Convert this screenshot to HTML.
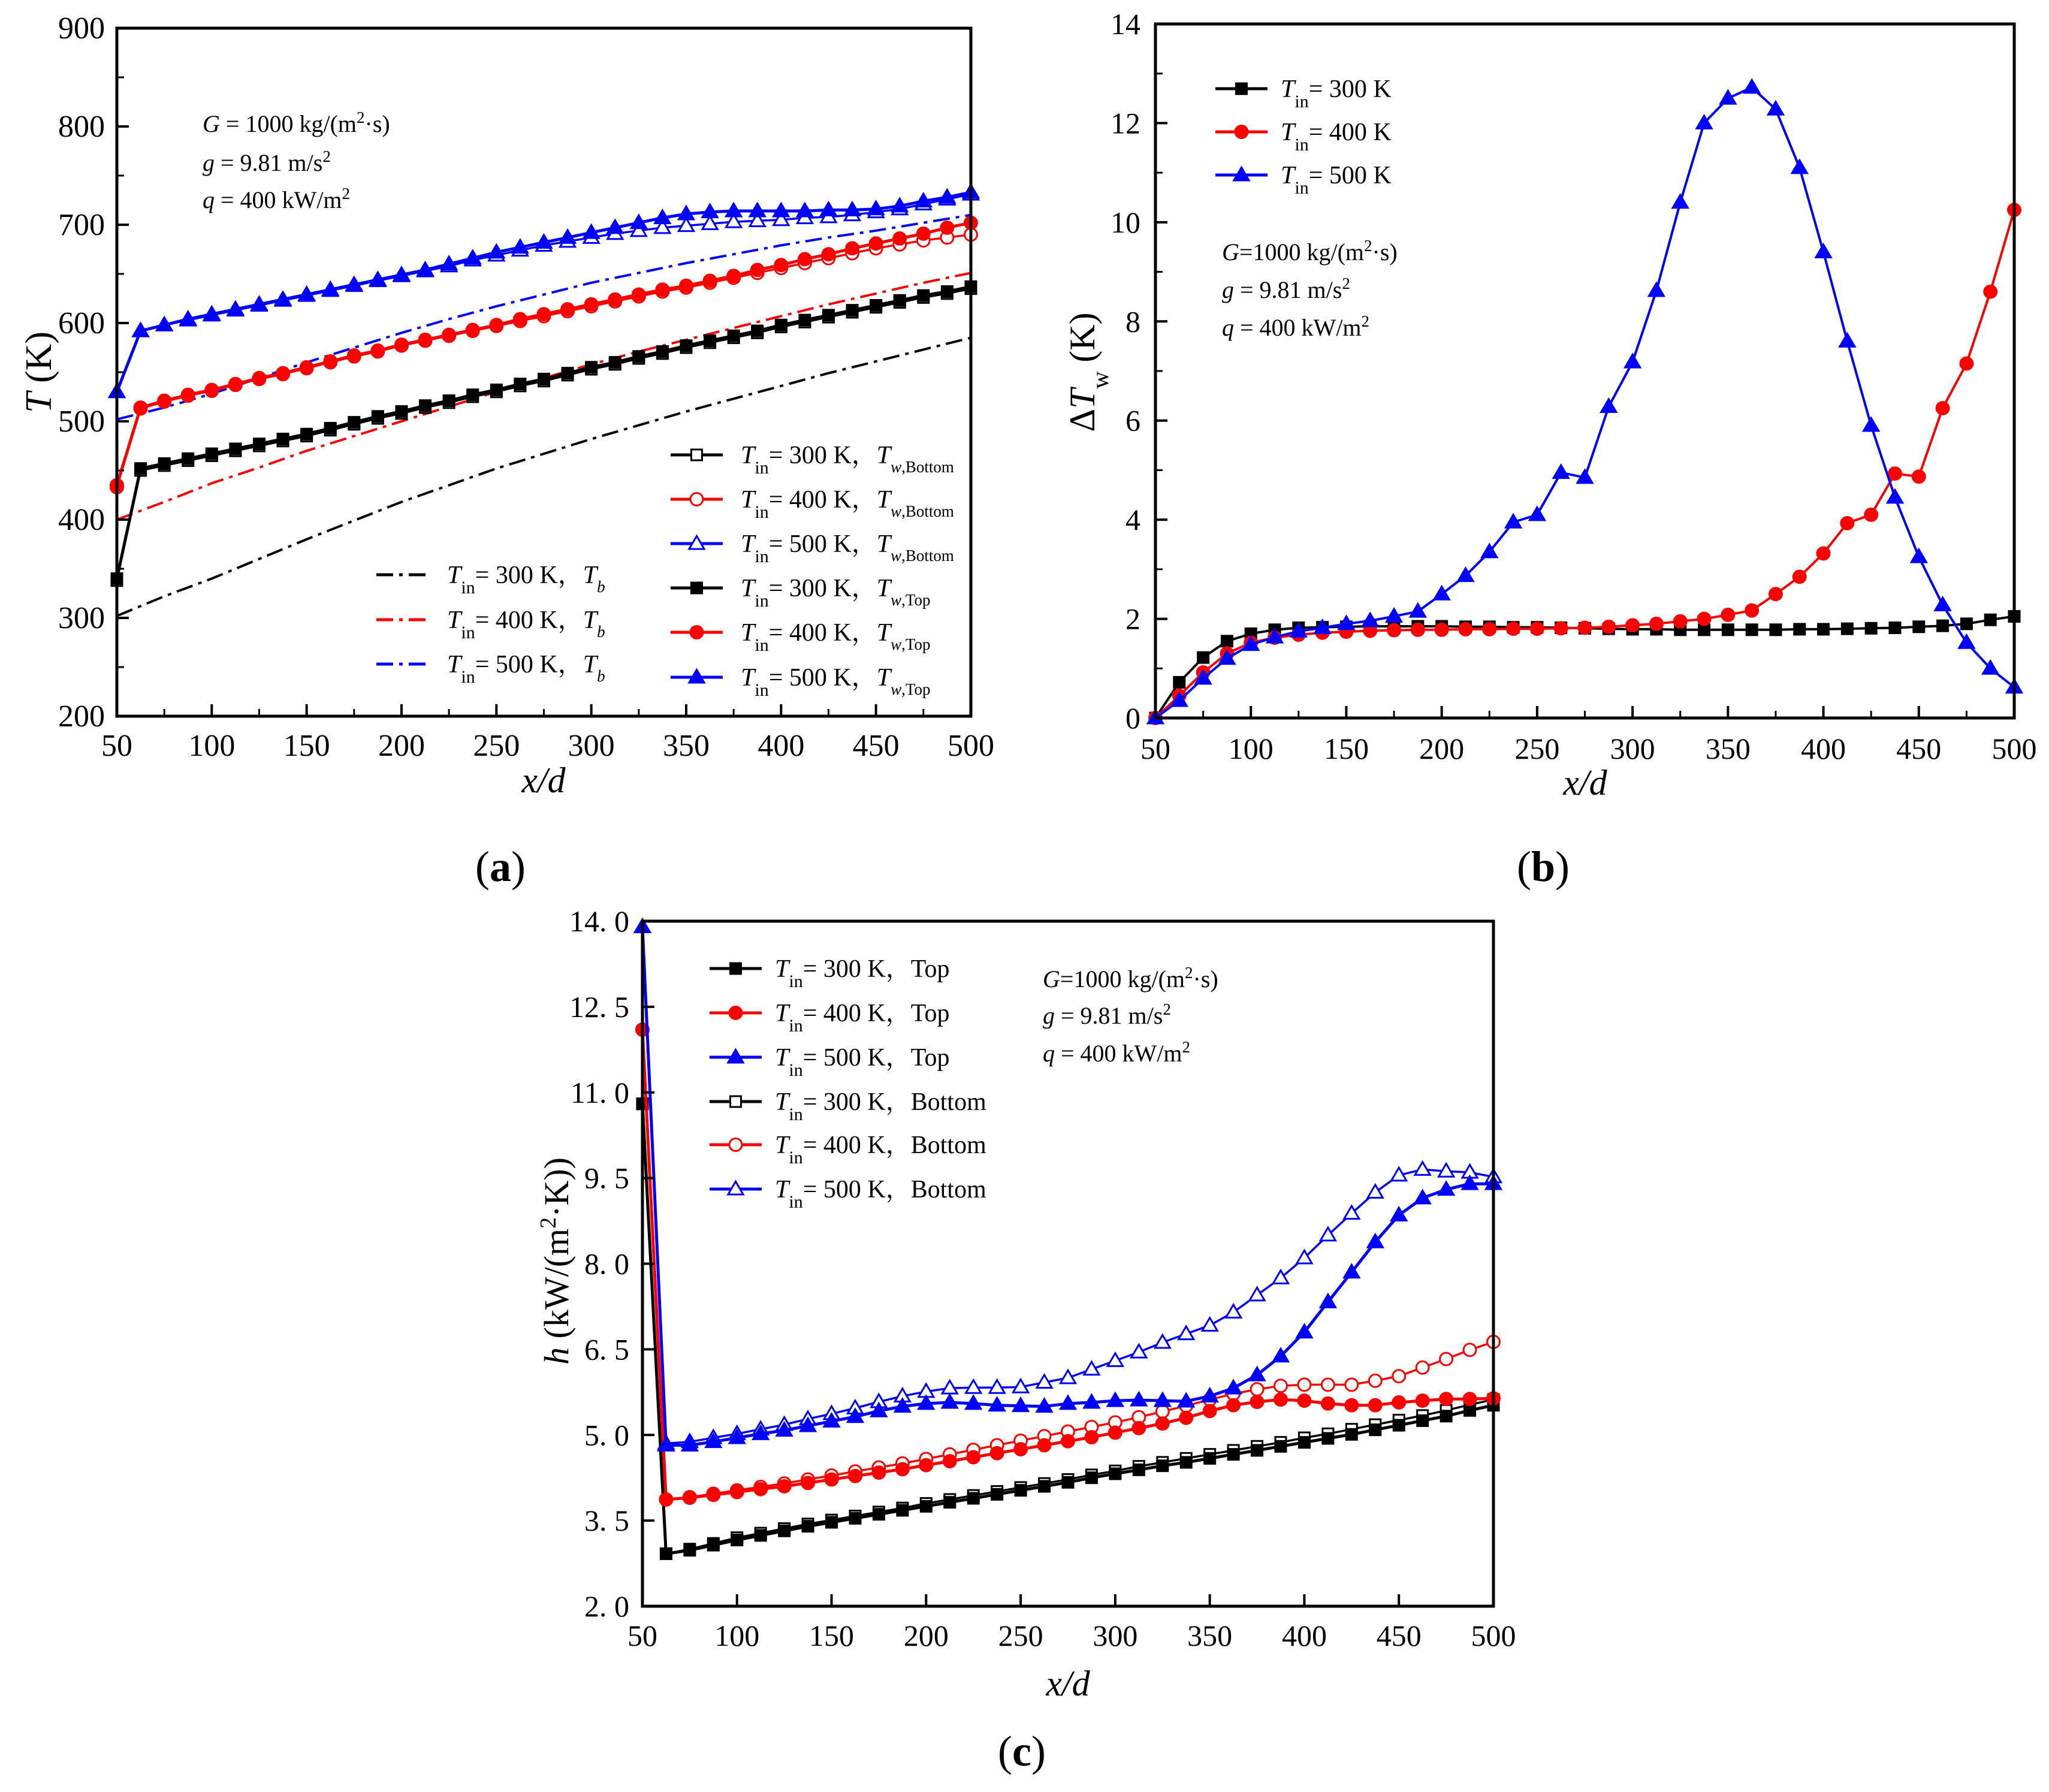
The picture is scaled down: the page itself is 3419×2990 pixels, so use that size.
<!DOCTYPE html>
<html><head><meta charset="utf-8"><style>
html,body{margin:0;padding:0;background:#fff}
svg{display:block}
text{font-family:"Liberation Serif","Noto Serif CJK SC",serif;fill:#000}
</style></head><body>
<svg id="fig" xmlns="http://www.w3.org/2000/svg" width="3419" height="2990" viewBox="0 0 3419 2990">
<rect width="3419" height="2990" fill="#fff"/>
<g id="pa"></g>
<g id="pb"></g>
<g id="pc"></g>

<g font-size="40">
<text x="338" y="220"><tspan font-style="italic">G</tspan> = 1000 kg/(m<tspan baseline-shift="super" font-size="27">2</tspan>·s)</text>
<text x="338" y="285"><tspan font-style="italic">g</tspan> = 9.81 m/s<tspan baseline-shift="super" font-size="27">2</tspan></text>
<text x="338" y="347"><tspan font-style="italic">q</tspan> = 400 kW/m<tspan baseline-shift="super" font-size="27">2</tspan></text>
</g>
<text font-size="62" transform="translate(85,621) rotate(-90)" text-anchor="middle"><tspan font-style="italic">T</tspan> (K)</text>
<text font-size="60" x="907" y="1322" text-anchor="middle" font-style="italic">x/d</text>
<text font-size="72" x="835" y="1470" text-anchor="middle">(<tspan font-weight="bold">a</tspan>)</text>

<text font-size="60" transform="translate(1826,621) rotate(-90)" text-anchor="middle">Δ<tspan font-style="italic">T</tspan><tspan baseline-shift="sub" font-size="40">w</tspan> (K)</text>
<text font-size="60" x="2645" y="1326" text-anchor="middle" font-style="italic">x/d</text>
<text font-size="72" x="2575" y="1470" text-anchor="middle">(<tspan font-weight="bold">b</tspan>)</text>
<g font-size="40">
<text x="2039" y="434"><tspan font-style="italic">G</tspan>=1000 kg/(m<tspan baseline-shift="super" font-size="27">2</tspan>·s)</text>
<text x="2039" y="497"><tspan font-style="italic">g</tspan> = 9.81 m/s<tspan baseline-shift="super" font-size="27">2</tspan></text>
<text x="2039" y="560"><tspan font-style="italic">q</tspan> = 400 kW/m<tspan baseline-shift="super" font-size="27">2</tspan></text>
</g>

<text font-size="58" transform="translate(948,2104) rotate(-90)" text-anchor="middle"><tspan font-style="italic">h</tspan> (kW/(m<tspan baseline-shift="super" font-size="38">2</tspan>·K))</text>
<text font-size="60" x="1782" y="2829" text-anchor="middle" font-style="italic">x/d</text>
<text font-size="72" x="1705" y="2946" text-anchor="middle">(<tspan font-weight="bold">c</tspan>)</text>
<g font-size="40">
<text x="1740" y="1647"><tspan font-style="italic">G</tspan>=1000 kg/(m<tspan baseline-shift="super" font-size="27">2</tspan>·s)</text>
<text x="1740" y="1708"><tspan font-style="italic">g</tspan> = 9.81 m/s<tspan baseline-shift="super" font-size="27">2</tspan></text>
<text x="1740" y="1771"><tspan font-style="italic">q</tspan> = 400 kW/m<tspan baseline-shift="super" font-size="27">2</tspan></text>
</g>
</svg>
<script>
// ---------- data ----------
const xFull = [50,62.5,75,87.5,100,112.5,125,137.5,150,162.5,175,187.5,200,212.5,225,237.5,250,262.5,275,287.5,300,312.5,325,337.5,350,362.5,375,387.5,400,412.5,425,437.5,450,462.5,475,487.5,500];
const xBulk = [50,75,100,125,150,175,200,225,250,275,300,325,350,375,400,425,450,475,500];
const xTicks = [50,100,150,200,250,300,350,400,450,500];

const a300Top = [340,452,457,462,467,472,477,482,487,493,499,505,510,516,521,527,532,538,543,549,555,560,566,571,577,582,587,592,598,603,608,613,618,623,628,632,637];
const a300Bot = [338,450,455,460,465,470,475,480,485,491,497,503,508,514,519,525,530,536,541,547,553,558,564,569,575,580,585,590,596,601,606,611,616,621,626,630,635];
const a400Top = [435,514,521,527,532,538,544,549,555,561,567,572,578,583,588,593,598,604,609,614,619,624,629,634,638,643,648,654,659,665,670,676,681,686,691,697,702];
const a400Bot = [433,513,520,526,531,537,543,548,554,560,566,571,577,582,587,592,597,602,607,612,617,622,627,632,636,641,646,651,656,661,666,671,676,680,684,687,690];
const a500Top = [530,592,598,604,609,614,619,624,629,634,639,644,649,654,660,666,672,677,682,687,692,697,702,707,711,713,714,714,714,714,715,715,716,719,724,728,733];
const a500Bot = [530,592,598,603,608,613,618,623,628,633,638,643,648,653,658,664,669,674,679,683,687,691,694,697,699,701,703,704,705,707,708,710,713,716,721,726,731];
const tb300 = [302,322,340,360,380,399,418,435,452,467,482,496,510,523,536,549,561,573,585];
const tb400 = [400,418,437,453,470,485,500,515,530,544,558,571,583,595,607,619,630,641,651];
const tb500 = [502,514,528,544,560,575,590,604,617,629,641,651,661,670,679,687,694,702,710];
const aYTicks = [200,300,400,500,600,700,800,900];

const b300 = [0,0.72,1.22,1.55,1.7,1.78,1.82,1.83,1.84,1.85,1.85,1.85,1.85,1.84,1.84,1.83,1.83,1.82,1.81,1.80,1.79,1.79,1.78,1.78,1.78,1.78,1.78,1.79,1.79,1.80,1.81,1.82,1.84,1.86,1.9,1.98,2.05];
const b400 = [0,0.45,0.92,1.3,1.52,1.62,1.68,1.72,1.74,1.76,1.77,1.78,1.78,1.79,1.79,1.8,1.8,1.81,1.82,1.84,1.87,1.9,1.95,2.0,2.08,2.17,2.5,2.85,3.32,3.93,4.1,4.93,4.87,6.25,7.15,8.6,10.25];
const b500 = [0,0.35,0.8,1.2,1.48,1.63,1.75,1.82,1.9,1.96,2.05,2.15,2.5,2.87,3.35,3.95,4.1,4.95,4.85,6.28,7.18,8.62,10.4,12.0,12.5,12.72,12.28,11.1,9.4,7.6,5.9,4.45,3.25,2.28,1.52,1.0,0.62];
const bYTicks = [0,2,4,6,8,10,12,14];

const c300Top = [10.8,2.92,2.98,3.07,3.16,3.24,3.32,3.40,3.47,3.54,3.61,3.68,3.75,3.82,3.89,3.96,4.03,4.1,4.17,4.25,4.32,4.39,4.46,4.52,4.59,4.66,4.73,4.8,4.87,4.94,5.01,5.09,5.17,5.25,5.33,5.43,5.52];
const c300Bot = [10.8,2.92,3.0,3.1,3.2,3.28,3.36,3.44,3.51,3.58,3.65,3.72,3.8,3.87,3.94,4.01,4.08,4.15,4.22,4.3,4.37,4.45,4.52,4.59,4.66,4.73,4.8,4.87,4.95,5.02,5.1,5.18,5.26,5.34,5.43,5.53,5.62];
const c400Top = [12.1,3.87,3.9,3.95,4.0,4.05,4.1,4.16,4.22,4.28,4.34,4.4,4.47,4.54,4.61,4.68,4.75,4.82,4.89,4.96,5.04,5.12,5.2,5.3,5.42,5.52,5.58,5.62,5.6,5.55,5.52,5.52,5.57,5.6,5.63,5.63,5.64];
const c400Bot = [12.1,3.87,3.91,3.97,4.03,4.09,4.15,4.22,4.29,4.36,4.43,4.5,4.58,4.66,4.74,4.82,4.9,4.98,5.06,5.14,5.22,5.31,5.41,5.51,5.62,5.72,5.8,5.86,5.88,5.88,5.88,5.95,6.03,6.18,6.33,6.49,6.63];
const c500Top = [13.9,4.82,4.82,4.88,4.95,5.02,5.08,5.16,5.24,5.32,5.42,5.5,5.55,5.57,5.55,5.52,5.51,5.5,5.55,5.57,5.6,5.61,5.6,5.59,5.68,5.82,6.05,6.38,6.8,7.33,7.85,8.38,8.85,9.15,9.3,9.4,9.4];
const c500Bot = [13.9,4.85,4.88,4.95,5.02,5.1,5.18,5.28,5.37,5.47,5.58,5.68,5.76,5.82,5.83,5.83,5.84,5.92,6.0,6.15,6.3,6.45,6.62,6.77,6.92,7.15,7.45,7.75,8.1,8.5,8.88,9.25,9.55,9.65,9.62,9.6,9.52];
const cYTicks = [2,3.5,5,6.5,8,9.5,11,12.5,14];
const cYTickLabels = ["2. 0","3. 5","5. 0","6. 5","8. 0","9. 5","11. 0","12. 5","14. 0"];

// ---------- helpers ----------
const NS = "http://www.w3.org/2000/svg";
function mk(parent, tag, attrs){
  const e = document.createElementNS(NS, tag);
  for (const k in attrs) e.setAttribute(k, attrs[k]);
  parent.appendChild(e);
  return e;
}
function scale(d0,d1,r0,r1){ return v => r0 + (v-d0)/(d1-d0)*(r1-r0); }

function marker(g, shape, cx, cy, color, open, s){
  let m;
  const fill = open ? "#fff" : color;
  if (shape === "sq") m = mk(g,"rect",{x:cx-s/2,y:cy-s/2,width:s,height:s,fill:fill,stroke:color,"stroke-width":3});
  else if (shape === "ci") m = mk(g,"circle",{cx:cx,cy:cy,r:s*0.58,fill:fill,stroke:color,"stroke-width":3});
  else m = mk(g,"polygon",{points:`${cx},${cy-s*0.7} ${cx-s*0.7},${cy+s*0.5} ${cx+s*0.7},${cy+s*0.5}`,fill:fill,stroke:color,"stroke-width":3});
  
  
  return m;
}

function series(g, xs, ys, sx, sy, color, opts, name){
  const sg = mk(g,"g",{});
  
  
  const pts = xs.map((x,i)=>sx(x).toFixed(1)+","+sy(ys[i]).toFixed(1)).join(" ");
  const pl = mk(sg,"polyline",{points:pts,fill:"none",stroke:color,"stroke-width":opts.w||5,"stroke-linejoin":"round"});
  if (opts.dash) pl.setAttribute("stroke-dasharray", opts.dash);
  
  
  if (opts.shape) xs.forEach((x,i)=> marker(sg, opts.shape, sx(x), sy(ys[i]), color, opts.open, opts.s||18));
}

function axes(g, L,T,R,B, sx, sy, cfg){
  const ax = mk(g,"g",{});
  
  
  const fr = mk(ax,"rect",{x:L,y:T,width:R-L,height:B-T,fill:"none",stroke:"#000","stroke-width":5});
  
  
  cfg.xt.forEach(v=>{
    const x = sx(v);
    const t = mk(ax,"line",{x1:x,y1:B,x2:x,y2:B-20,stroke:"#000","stroke-width":4});
    
    
    const lb = mk(ax,"text",{x:x,y:B+cfg.xly,"text-anchor":"middle","font-size":cfg.fs});
    lb.textContent = v;
    
    
    if (cfg.minor && v < cfg.xt[cfg.xt.length-1]) {
      const xm = sx(v + cfg.xminor);
      const m = mk(ax,"line",{x1:xm,y1:B,x2:xm,y2:B-12,stroke:"#000","stroke-width":3});
      
      
    }
  });
  cfg.yt.forEach((v,i)=>{
    const y = sy(v);
    const t = mk(ax,"line",{x1:L,y1:y,x2:L+20,y2:y,stroke:"#000","stroke-width":4});
    
    
    const lb = mk(ax,"text",{x:L-cfg.ylx,y:y+17,"text-anchor":"end","font-size":cfg.fs});
    lb.textContent = cfg.ylab ? cfg.ylab[i] : v;
    
    
    if (cfg.minor && i < cfg.yt.length-1) {
      const ym = sy(v + cfg.yminor);
      const m = mk(ax,"line",{x1:L,y1:ym,x2:L+12,y2:ym,stroke:"#000","stroke-width":3});
      
      
    }
  });
}

function legendEntry(g, x1, x2, y, color, shape, open, dash, textX, parts, name){
  const eg = mk(g,"g",{});
  
  
  const l = mk(eg,"line",{x1:x1,y1:y,x2:x2,y2:y,stroke:color,"stroke-width":5});
  if (dash) l.setAttribute("stroke-dasharray", dash);
  if (shape) marker(eg, shape, (x1+x2)/2, y, color, open, 18);
  const t = mk(eg,"text",{x:textX,y:y+14,"font-size":42});
  t.innerHTML = parts;
}
function tin(v, rest){
  return `<tspan font-style="italic">T</tspan><tspan baseline-shift="sub" font-size="30">in</tspan>= ${v} K，${rest}`;
}
function tw(sub){ return `<tspan font-style="italic">T</tspan><tspan baseline-shift="sub" font-size="27"><tspan font-style="italic">w</tspan>,${sub}</tspan>`; }

const BLK="#000", RED="#f00", BLU="#00f";

// ---------- panel a ----------
(function(){
  const g = document.getElementById("pa");
  const L=195,T=47,R=1620,B=1195;
  const sx = scale(50,500,L,R), sy = scale(200,900,B,T);
  const dd = "28 10 6 10";
  series(g,xBulk,tb300,sx,sy,BLK,{dash:dd,w:4},"series-tb-300");
  series(g,xBulk,tb400,sx,sy,RED,{dash:dd,w:4},"series-tb-400");
  series(g,xBulk,tb500,sx,sy,BLU,{dash:dd,w:4},"series-tb-500");
  series(g,xFull,a300Bot,sx,sy,BLK,{shape:"sq",open:true,w:3.5},"series-tw-bottom-300");
  series(g,xFull,a400Bot,sx,sy,RED,{shape:"ci",open:true,w:3.5},"series-tw-bottom-400");
  series(g,xFull,a500Bot,sx,sy,BLU,{shape:"tr",open:true,w:3.5},"series-tw-bottom-500");
  series(g,xFull,a300Top,sx,sy,BLK,{shape:"sq"},"series-tw-top-300");
  series(g,xFull,a400Top,sx,sy,RED,{shape:"ci"},"series-tw-top-400");
  series(g,xFull,a500Top,sx,sy,BLU,{shape:"tr"},"series-tw-top-500");
  axes(g,L,T,R,B,sx,sy,{name:"panel-a",xt:xTicks,yt:aYTicks,fs:52,xly:66,ylx:20,minor:true,xminor:25,yminor:50});
  const lg = mk(g,"g",{});  
  const rows=[759,833,907,981,1055,1130];
  legendEntry(lg,1119,1206,rows[0],BLK,"sq",true,null,1236,tin(300,tw("Bottom")),"legend-entry-bottom-300");
  legendEntry(lg,1119,1206,rows[1],RED,"ci",true,null,1236,tin(400,tw("Bottom")),"legend-entry-bottom-400");
  legendEntry(lg,1119,1206,rows[2],BLU,"tr",true,null,1236,tin(500,tw("Bottom")),"legend-entry-bottom-500");
  legendEntry(lg,1119,1206,rows[3],BLK,"sq",false,null,1236,tin(300,tw("Top")),"legend-entry-top-300");
  legendEntry(lg,1119,1206,rows[4],RED,"ci",false,null,1236,tin(400,tw("Top")),"legend-entry-top-400");
  legendEntry(lg,1119,1206,rows[5],BLU,"tr",false,null,1236,tin(500,tw("Top")),"legend-entry-top-500");
  const tb = `<tspan font-style="italic">T</tspan><tspan baseline-shift="sub" font-size="27" font-style="italic">b</tspan>`;
  legendEntry(lg,628,715,959,BLK,null,false,dd,746,tin(300,tb),"legend-entry-tb-300");
  legendEntry(lg,628,715,1034,RED,null,false,dd,746,tin(400,tb),"legend-entry-tb-400");
  legendEntry(lg,628,715,1108,BLU,null,false,dd,746,tin(500,tb),"legend-entry-tb-500");
})();

// ---------- panel b ----------
(function(){
  const g = document.getElementById("pb");
  const L=1928,T=40,R=3361,B=1198;
  const sx = scale(50,500,L,R), sy = scale(0,14,B,T);
  series(g,xFull,b300,sx,sy,BLK,{shape:"sq",w:4},"series-dtw-300");
  series(g,xFull,b400,sx,sy,RED,{shape:"ci",w:4},"series-dtw-400");
  series(g,xFull,b500,sx,sy,BLU,{shape:"tr",w:4},"series-dtw-500");
  axes(g,L,T,R,B,sx,sy,{name:"panel-b",xt:xTicks,yt:bYTicks,fs:50,xly:68,ylx:25,minor:true,xminor:25,yminor:1});
  const lg = mk(g,"g",{});  
  const t = v => `<tspan font-style="italic">T</tspan><tspan baseline-shift="sub" font-size="30">in</tspan>= ${v} K`;
  legendEntry(lg,2028,2115,148,BLK,"sq",false,null,2137,t(300),"legend-entry-300");
  legendEntry(lg,2028,2115,220,RED,"ci",false,null,2137,t(400),"legend-entry-400");
  legendEntry(lg,2028,2115,292,BLU,"tr",false,null,2137,t(500),"legend-entry-500");
})();

// ---------- panel c ----------
(function(){
  const g = document.getElementById("pc");
  const L=1072,T=1537,R=2492,B=2680;
  const sx = scale(50,500,L,R), sy = scale(2,14,B,T);
  series(g,xFull,c300Bot,sx,sy,BLK,{shape:"sq",open:true,w:3.5},"series-h-bottom-300");
  series(g,xFull,c400Bot,sx,sy,RED,{shape:"ci",open:true,w:3.5},"series-h-bottom-400");
  series(g,xFull,c500Bot,sx,sy,BLU,{shape:"tr",open:true,w:3.5},"series-h-bottom-500");
  series(g,xFull,c300Top,sx,sy,BLK,{shape:"sq"},"series-h-top-300");
  series(g,xFull,c400Top,sx,sy,RED,{shape:"ci"},"series-h-top-400");
  series(g,xFull,c500Top,sx,sy,BLU,{shape:"tr"},"series-h-top-500");
  axes(g,L,T,R,B,sx,sy,{name:"panel-c",xt:xTicks,yt:cYTicks,ylab:cYTickLabels,fs:50,xly:66,ylx:22,minor:false});
  const lg = mk(g,"g",{});  
  const rows=[1616,1690,1764,1838,1910,1984];
  legendEntry(lg,1184,1271,rows[0],BLK,"sq",false,null,1293,tin(300,"Top"),"legend-entry-top-300");
  legendEntry(lg,1184,1271,rows[1],RED,"ci",false,null,1293,tin(400,"Top"),"legend-entry-top-400");
  legendEntry(lg,1184,1271,rows[2],BLU,"tr",false,null,1293,tin(500,"Top"),"legend-entry-top-500");
  legendEntry(lg,1184,1271,rows[3],BLK,"sq",true,null,1293,tin(300,"Bottom"),"legend-entry-bottom-300");
  legendEntry(lg,1184,1271,rows[4],RED,"ci",true,null,1293,tin(400,"Bottom"),"legend-entry-bottom-400");
  legendEntry(lg,1184,1271,rows[5],BLU,"tr",true,null,1293,tin(500,"Bottom"),"legend-entry-bottom-500");
})();
</script>
</body></html>
